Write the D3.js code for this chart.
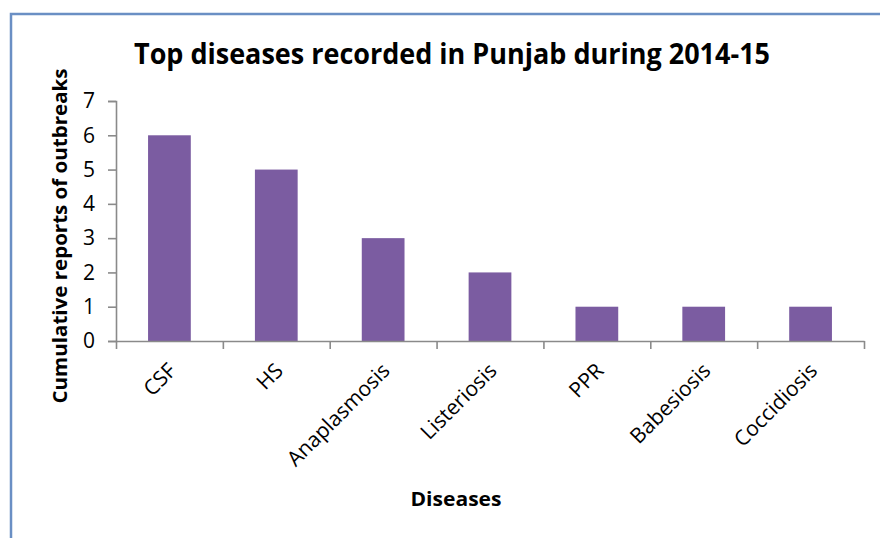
<!DOCTYPE html>
<html>
<head>
<meta charset="utf-8">
<script src="https://cdn.jsdelivr.net/npm/d3@7"></script>
<style>
  html, body { margin: 0; padding: 0; background: #fff; }
  svg { display: block; }
  text { font-family: "Open Sans", "DejaVu Sans", sans-serif; fill: #000; }
</style>
</head>
<body>
<svg id="chart" width="880" height="538"></svg>
<script>
const categories = ["CSF", "HS", "Anaplasmosis", "Listeriosis", "PPR", "Babesiosis", "Coccidiosis"];
const outbreaks = [6, 5, 3, 2, 1, 1, 1];
const yTicks = [0, 1, 2, 3, 4, 5, 6, 7];
const chartTitle = "Top diseases recorded in Punjab during 2014-15";
const xTitle = "Diseases";
const yTitle = "Cumulative reports of outbreaks";

const svg = d3.select("#chart");
const W = 880, H = 538;
const plot = { left: 116, right: 864, top: 101, bottom: 341 };

// chart frame (blue border, clipped by the picture on the right/bottom)
svg.append("rect")
  .attr("x", 11).attr("y", 14)
  .attr("width", W + 20).attr("height", H + 20)
  .attr("fill", "#fff")
  .attr("stroke", "#6a8fc4")
  .attr("stroke-width", 2.5);

const x = d3.scaleBand()
  .domain(categories)
  .range([plot.left, plot.right])
  .paddingInner(0.6)
  .paddingOuter(0.3);

const xEdges = d3.scaleLinear()
  .domain([0, categories.length])
  .range([plot.left, plot.right]);

const y = d3.scaleLinear()
  .domain([0, 7])
  .range([plot.bottom, plot.top]);

// bars
svg.append("g")
  .selectAll("rect")
  .data(categories)
  .join("rect")
  .attr("x", d => x(d))
  .attr("width", x.bandwidth())
  .attr("y", (d, i) => y(outbreaks[i]))
  .attr("height", (d, i) => y(0) - y(outbreaks[i]))
  .attr("fill", "#7b5ca1");

// y axis
const yAxis = svg.append("g")
  .attr("transform", `translate(${plot.left},0)`)
  .call(d3.axisLeft(y).tickValues(yTicks).tickFormat(d3.format("d")).tickSize(8).tickSizeOuter(8).tickPadding(13));
yAxis.selectAll("path, line").attr("stroke", "#8a8a8a").attr("stroke-width", 1.6);
yAxis.selectAll("text")
  .style("font-size", "21px")
  .attr("fill", "#000");

// x axis (boundary ticks)
const xAxis = svg.append("g")
  .attr("transform", `translate(0,${plot.bottom})`)
  .call(d3.axisBottom(xEdges).tickValues(d3.range(categories.length + 1)).tickFormat("").tickSize(8).tickSizeOuter(0));
xAxis.selectAll("path, line").attr("stroke", "#8a8a8a").attr("stroke-width", 1.6);

// category labels
svg.append("g")
  .selectAll("text")
  .data(categories)
  .join("text")
  .attr("text-anchor", "end")
  .attr("transform", d => `translate(${x(d) + x.bandwidth() / 2 + 8},${plot.bottom + 31}) rotate(-45)`)
  .style("font-size", "21px")
  .text(d => d);

// title
svg.append("text")
  .attr("x", 452).attr("y", 64)
  .attr("text-anchor", "middle")
  .attr("textLength", 636)
  .attr("lengthAdjust", "spacingAndGlyphs")
  .style("font-size", "28px")
  .style("font-weight", "bold")
  .text(chartTitle);

// x title
svg.append("text")
  .attr("x", 456).attr("y", 506)
  .attr("text-anchor", "middle")
  .attr("textLength", 91)
  .attr("lengthAdjust", "spacingAndGlyphs")
  .style("font-size", "20px")
  .style("font-weight", "bold")
  .text(xTitle);

// y title
svg.append("text")
  .attr("transform", "translate(67,236) rotate(-90)")
  .attr("text-anchor", "middle")
  .attr("textLength", 335)
  .attr("lengthAdjust", "spacingAndGlyphs")
  .style("font-size", "20px")
  .style("font-weight", "bold")
  .text(yTitle);
</script>
</body>
</html>
